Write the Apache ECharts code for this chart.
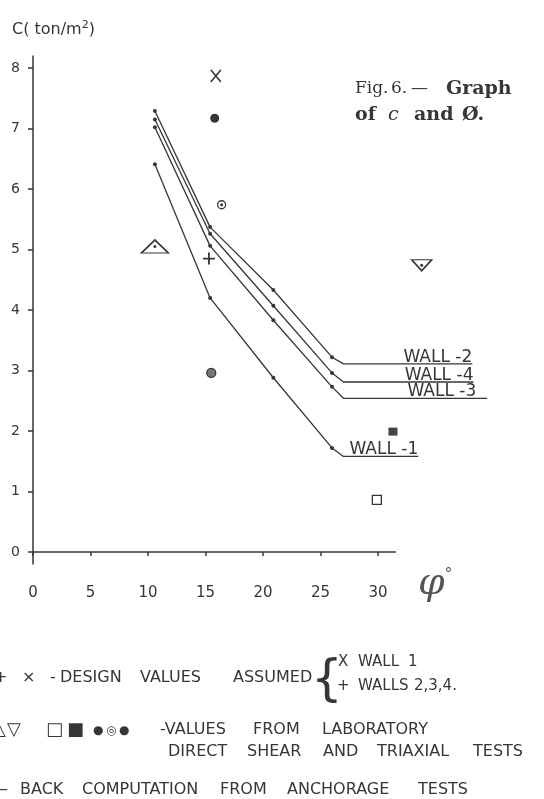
<!DOCTYPE html>
<html>
<head>
<meta charset="utf-8">
<script src="https://cdn.jsdelivr.net/npm/echarts@6/dist/echarts.min.js"></script>
<style>
  html, body { margin: 0; padding: 0; background: #fff; }
  #chart { width: 544px; height: 799px; }
</style>
</head>
<body>
<div id="chart"></div>
<script>
// phi (deg) and c (ton/m2)
const xTicks = [0, 5, 10, 15, 20, 25, 30];
const yTicks = [0, 1, 2, 3, 4, 5, 6, 7, 8];

const wallNames = ['WALL -2', 'WALL -4', 'WALL -3', 'WALL -1'];
const wallPhi = [10.6, 15.4, 20.9, 26.0, 27.0];
const wall2C = [7.29, 5.37, 4.33, 3.22, 3.11];
const wall4C = [7.15, 5.26, 4.07, 2.96, 2.81];
const wall3C = [7.02, 5.06, 3.83, 2.73, 2.54];
const wall1C = [6.41, 4.20, 2.88, 1.72, 1.58];
const wallEndPhi = [38.2, 38.3, 39.5, 33.5];

// design values assumed
const designCross = [[15.9, 7.87]];   // X wall 1
const designPlus = [[15.3, 4.85]];    // + walls 2,3,4
// laboratory direct shear / triaxial
const labTriUp = [[10.6, 5.05]];
const labTriDown = [[33.8, 4.74]];
const labSquareOpen = [[29.9, 0.86]];
const labSquareFilled = [[31.3, 1.99]];
const labDotFilled = [[15.8, 7.17]];
const labRing = [[16.4, 5.74]];
const labDotGrey = [[15.5, 2.96]];

const ink = '#363636';
const sans = 'DejaVu Sans';
const serif = 'DejaVu Serif';

(function () {
    const chart = echarts.init(document.getElementById('chart'));

    // lines run past the drawn axis, so they live on a wider twin grid with the same scale
    function wallSeries(name, cs, endPhi, labelShift) {
        const data = wallPhi.map((p, i) => [p, cs[i]]);
        data.push([endPhi, cs[cs.length - 1]]);
        const last = data.length - 1;
        return {
            name: name,
            type: 'line',
            xAxisIndex: 1,
            yAxisIndex: 1,
            data: data,
            clip: false,
            symbol: 'circle',
            symbolSize: (v, p) => (p.dataIndex < 4 ? 4 : 0),
            lineStyle: { color: ink, width: 1.3 },
            itemStyle: { color: ink },
            label: {
                show: true,
                position: 'top',
                align: 'right',
                distance: -2,
                offset: [labelShift || 0, 0],
                formatter: p => (p.dataIndex === last ? name : ''),
                fontFamily: sans,
                fontSize: 17,
                color: ink
            }
        };
    }

    function marker(data, symbol, size, fill, border) {
        return {
            type: 'scatter',
            xAxisIndex: 1,
            yAxisIndex: 1,
            data: data,
            clip: false,
            symbol: symbol,
            symbolSize: size,
            itemStyle: { color: fill, borderColor: ink, borderWidth: border, opacity: 1 }
        };
    }

    // word-by-word text placer for the key and caption
    function words(y, list, font) {
        return list.map(w => ({
            type: 'text',
            x: w[0],
            y: y,
            style: {
                text: w[1],
                font: font || ('16px "' + sans + '"'),
                fill: ink,
                verticalAlign: 'middle'
            }
        }));
    }

    const graphics = [].concat(
        // y axis title
        [{
            type: 'text', x: 12, y: 30,
            style: {
                text: '{a|C( ton/m}{s|2}{a|)}',
                verticalAlign: 'middle',
                rich: {
                    a: { fontFamily: sans, fontSize: 16, fill: ink },
                    s: { fontFamily: sans, fontSize: 11, fill: ink, verticalAlign: 'top', padding: [0, 0, 10, 0] }
                }
            }
        },
        // x axis title
        {
            type: 'text', x: 418, y: 584,
            style: {
                text: '{p|φ}{d|°}',
                verticalAlign: 'middle',
                rich: {
                    p: { fontFamily: serif, fontStyle: 'italic', fontSize: 38, fill: '#555' },
                    d: { fontFamily: sans, fontSize: 16, fill: '#555', padding: [0, 0, 18, 0] }
                }
            }
        }],
        // caption
        words(89, [[355, 'Fig.'], [391, '6.'], [411, '—']], '17px "' + serif + '"'),
        words(89, [[446, 'Graph']], 'bold 19px "' + serif + '"'),
        words(115, [[355, 'of'], [414, 'and'], [462, 'Ø.']], 'bold 19px "' + serif + '"'),
        words(115, [[388, 'c']], 'italic 19px "' + serif + '"'),
        // key
        words(678, [[-6, '+'], [22, '×'], [50, '-'], [60, 'DESIGN'], [140, 'VALUES'], [233, 'ASSUMED']]),
        words(682, [[311, '{']], '50px "' + sans + '"'),
        words(662, [[338, 'X'], [358, 'WALL'], [408, '1']], '15px "' + sans + '"'),
        words(686, [[337, '+'], [358, 'WALLS'], [414, '2,3,4.']], '15px "' + sans + '"'),
        words(730, [[-8, '△'], [7, '▽'], [46, '□'], [67, '■']], '18px "' + sans + '"'),
        words(731, [[93, '●'], [106, '◎'], [119, '●']], '12px "' + sans + '"'),
        words(730, [[160, '-VALUES'], [253, 'FROM'], [322, 'LABORATORY']]),
        words(752, [[168, 'DIRECT'], [247, 'SHEAR'], [323, 'AND'], [377, 'TRIAXIAL'], [473, 'TESTS']]),
        words(790, [[-8, '—'], [20, 'BACK'], [82, 'COMPUTATION'], [220, 'FROM'], [287, 'ANCHORAGE'], [418, 'TESTS']])
    );

    const option = {
        backgroundColor: '#fff',
        animation: false,
        grid: [
            { left: 33, right: 148.75, top: 55.9, bottom: 234.9 },
            { left: 33, width: 460, top: 55.9, bottom: 234.9 }
        ],
        xAxis: [{
            type: 'value',
            min: 0,
            max: 31.5,
            splitLine: { show: false },
            axisLine: { onZero: true, lineStyle: { color: ink, width: 1.5 } },
            axisTick: { show: true, customValues: xTicks, length: 4, lineStyle: { color: ink, width: 1.5 } },
            axisLabel: { customValues: xTicks, margin: 22, fontFamily: sans, fontSize: 15, color: ink }
        }, {
            type: 'value', gridIndex: 1, min: 0, max: 40, show: false
        }],
        yAxis: [{
            type: 'value',
            min: -0.2,
            max: 8.2,
            splitLine: { show: false },
            axisLine: { onZero: true, lineStyle: { color: ink, width: 1.5 } },
            axisTick: { show: true, customValues: yTicks, length: 5, lineStyle: { color: ink, width: 1.5 } },
            axisLabel: { customValues: yTicks, margin: 13, fontFamily: sans, fontSize: 14, color: ink }
        }, {
            type: 'value', gridIndex: 1, min: -0.2, max: 8.2, show: false
        }],
        series: [
            wallSeries(wallNames[0], wall2C, wallEndPhi[0]),
            wallSeries(wallNames[1], wall4C, wallEndPhi[1]),
            wallSeries(wallNames[2], wall3C, wallEndPhi[2], -11),
            wallSeries(wallNames[3], wall1C, wallEndPhi[3]),
            marker(designCross, 'path://M0,0L10,12M10,0L0,12', [10, 12], 'transparent', 1.6),
            marker(designPlus, 'path://M6,0L6,12M0,6L12,6', [12, 12], 'transparent', 1.8),
            marker(labTriUp, 'triangle', [27, 13], '#fff', 1.5),
            marker(labTriDown, 'path://M0,0L20,0L10,11Z', [20, 11], '#fff', 1.5),
            marker(labSquareOpen, 'rect', [9, 9], '#fff', 1.3),
            marker(labSquareFilled, 'rect', [9, 8], '#444', 0),
            marker(labDotFilled, 'circle', 9, ink, 0),
            marker(labRing, 'circle', 8, '#fff', 1.3),
            marker(labDotGrey, 'circle', 9, '#777', 1.3),
            // centre dots of the outlined laboratory symbols
            marker(labTriUp.concat(labTriDown, labRing), 'circle', 3, ink, 0)
        ],
        graphic: graphics
    };

    chart.setOption(option);
})();
</script>
</body>
</html>
